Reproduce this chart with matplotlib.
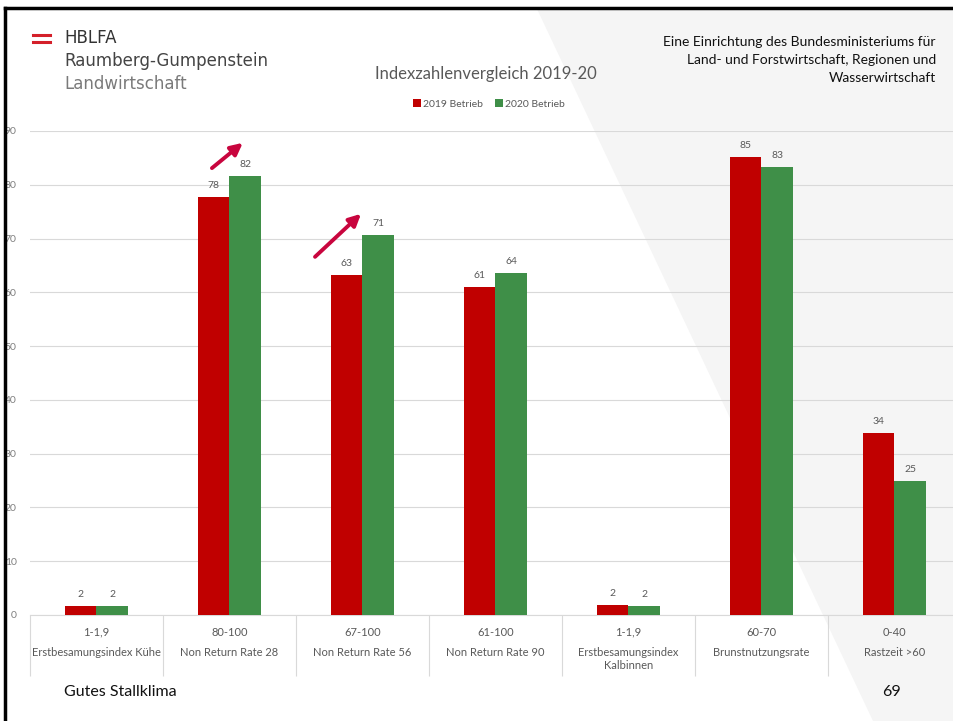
import matplotlib

matplotlib.use('Agg')
import matplotlib.pyplot as plt
from matplotlib.lines import Line2D
from matplotlib.patches import Polygon
import numpy as np

plt.rcParams['font.family'] = ['Lato', 'DejaVu Sans']

# Chart data
ranges = ['1-1,9', '80-100', '67-100', '61-100', '1-1,9', '60-70', '0-40']
names = ['Erstbesamungsindex Kühe', 'Non Return Rate 28', 'Non Return Rate 56',
         'Non Return Rate 90', 'Erstbesamungsindex\nKalbinnen', 'Brunstnutzungsrate',
         'Rastzeit >60']
betrieb_2019 = [1.6, 77.7, 63.2, 61.0, 1.9, 85.1, 33.8]
betrieb_2020 = [1.6, 81.6, 70.6, 63.6, 1.7, 83.3, 24.9]
series_names = ['2019 Betrieb', '2020 Betrieb']
yticks = [0, 10, 20, 30, 40, 50, 60, 70, 80, 90]

RED = '#C00000'
GREEN = '#3F8F48'
GREY_TXT = '#595959'
GRID = '#D9D9D9'
ARROW = '#C8053E'

W, H = 954, 721
fig = plt.figure(figsize=(W / 100, H / 100), dpi=100)

# slide background: light grey wedge on the right
fig.add_artist(Polygon([(537 / W, 1 - 9 / H), (1, 1 - 9 / H), (1, 0), (873 / W, 0)],
                       closed=True, transform=fig.transFigure,
                       facecolor='#F5F5F5', edgecolor='none', zorder=-10))

ax = fig.add_axes([30 / W, (H - 615) / H, 931 / W, (615 - 131) / H])
ax.patch.set_alpha(0)

x = np.arange(len(names))
bw = 0.235
b1 = ax.bar(x - bw / 2, betrieb_2019, bw, color=RED, label=series_names[0], zorder=3)
b2 = ax.bar(x + bw / 2, betrieb_2020, bw, color=GREEN, label=series_names[1], zorder=3)
for bars in (b1, b2):
    for rect in bars:
        h = rect.get_height()
        ax.annotate(f'{h:.0f}', (rect.get_x() + rect.get_width() / 2, h),
                    xytext=(0, 5), textcoords='offset points', ha='center', va='bottom',
                    fontsize=7.5, color=GREY_TXT)

ax.set_xlim(-0.5, len(names) - 0.5)
ax.set_ylim(0, 90)
ax.set_yticks(yticks)
ax.tick_params(axis='y', length=0, labelsize=7.5, labelcolor='#7F7F7F', pad=9.5)
ax.yaxis.grid(True, color=GRID, linewidth=0.8, zorder=0)
for side in ('top', 'right', 'left'):
    ax.spines[side].set_visible(False)
ax.spines['bottom'].set_color(GRID)

# category axis: dividers between groups, two-level labels
ax.set_xticks(x)
ax.set_xticklabels([])
ax.tick_params(axis='x', which='major', length=0)
ax.set_xticks(np.arange(len(names) + 1) - 0.5, minor=True)
ax.tick_params(axis='x', which='minor', length=44, color=GRID, width=0.8)
for i in x:
    ax.annotate(ranges[i], (i, 0), xycoords=('data', 'axes fraction'),
                xytext=(0, -12.5), textcoords='offset points', ha='center', va='center',
                fontsize=8, color=GREY_TXT)
    ax.annotate(names[i], (i, 0), xycoords=('data', 'axes fraction'),
                xytext=(0, -23), textcoords='offset points', ha='center', va='top',
                fontsize=8, color=GREY_TXT, linespacing=1.2)

# highlight arrows
for tail, head in [((0.868, 83.1), (1.10, 87.8)), ((1.643, 66.6), (1.989, 74.6))]:
    ax.annotate('', xy=head, xytext=tail,
                arrowprops=dict(arrowstyle='-|>,head_length=0.7,head_width=0.35',
                                color=ARROW, lw=2.8, shrinkA=0, shrinkB=0))

# title and legend
fig.text(486 / W, 1 - 74 / H, 'Indexzahlenvergleich 2019-20', ha='center', va='center',
         fontsize=12, color=GREY_TXT)
ax.legend(loc='center', bbox_to_anchor=(489 / W, 1 - 104 / H), bbox_transform=fig.transFigure,
          ncol=2, frameon=False, fontsize=7.5, labelcolor=GREY_TXT, handlelength=0.7,
          handleheight=0.7, handletextpad=0.2, columnspacing=1.2)

# slide header: logo and ministry text
fig.add_artist(Line2D([33 / W, 50 / W], [1 - 35 / H] * 2, color='#D4202A', lw=2.2))
fig.add_artist(Line2D([33 / W, 50 / W], [1 - 42 / H] * 2, color='#D4202A', lw=2.2))
fig.text(64 / W, 1 - 38 / H, 'HBLFA', ha='left', va='center', fontsize=12,
         color='#333333', family='DejaVu Sans')
fig.text(64 / W, 1 - 61 / H, 'Raumberg-Gumpenstein', ha='left', va='center', fontsize=12,
         color='#444444', family='DejaVu Sans')
fig.text(64 / W, 1 - 84 / H, 'Landwirtschaft', ha='left', va='center', fontsize=12,
         color='#7A7A7A', family='DejaVu Sans')
fig.text(936 / W, 1 - 36 / H,
         'Eine Einrichtung des Bundesministeriums für\n'
         'Land- und Forstwirtschaft, Regionen und\nWasserwirtschaft',
         ha='right', va='top', fontsize=10, color='#111111', linespacing=1.6)
fig.text(64 / W, 1 - 692 / H, 'Gutes Stallklima', ha='left', va='center', fontsize=11.5,
         color='#111111')
fig.text(892 / W, 1 - 692 / H, '69', ha='center', va='center', fontsize=11.5, color='#111111')

# slide frame (thick black border top and left)
fig.add_artist(Line2D([5.5 / W, 1], [1 - 7.5 / H] * 2, color='black', lw=2.5, zorder=20))
fig.add_artist(Line2D([5.5 / W] * 2, [0, 1 - 7.5 / H], color='black', lw=2.5, zorder=20))

fig.savefig('out.png', dpi=100)
